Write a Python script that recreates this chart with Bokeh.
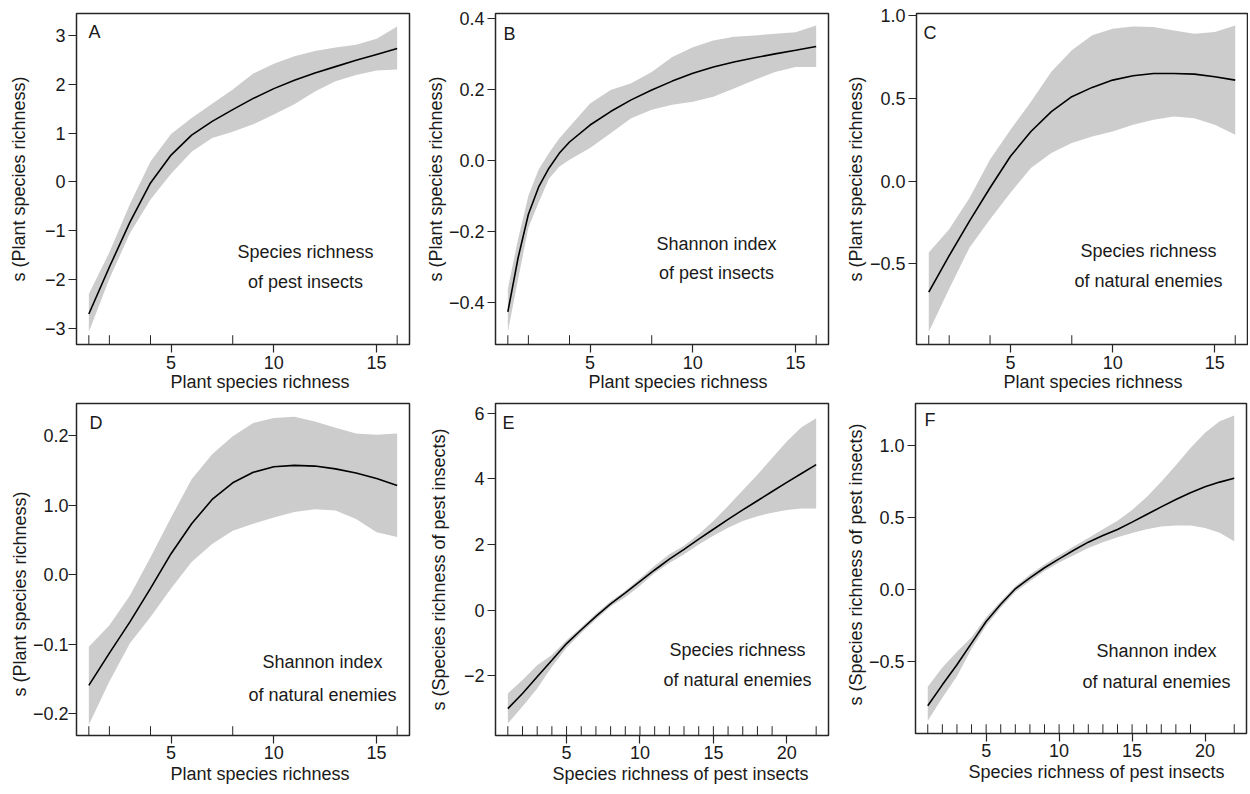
from bokeh.plotting import figure
from bokeh.layouts import row, column
from bokeh.models import Range1d, FixedTicker, Label, Title
from bokeh.embed import file_html
from bokeh.resources import INLINE

FONT = "Liberation Sans"

# ---------------- data ----------------
plant_x = [1, 2, 3, 4, 5, 6, 7, 8, 9, 10, 11, 12, 13, 14, 15, 16]
plant_rug = [1, 2, 4, 8, 16]
pest_x = list(range(1, 23))
pest_rug = list(range(1, 20)) + [22]

# A: species richness of pest insects
a_fit = [-2.70, -1.74, -0.82, -0.02, 0.55, 0.96, 1.24, 1.48, 1.71, 1.91, 2.08, 2.23, 2.36, 2.49, 2.61, 2.73]
a_hi = [-2.29, -1.44, -0.45, 0.42, 0.98, 1.31, 1.60, 1.89, 2.22, 2.42, 2.57, 2.68, 2.75, 2.81, 2.93, 3.18]
a_lo = [-3.07, -1.98, -1.05, -0.36, 0.17, 0.62, 0.90, 1.03, 1.18, 1.38, 1.59, 1.85, 2.06, 2.19, 2.28, 2.30]

# B: Shannon index of pest insects
b_x = [1, 1.5, 2, 2.5, 3, 3.5, 4, 5, 6, 7, 8, 9, 10, 11, 12, 13, 14, 15, 16]
b_fit = [-0.428, -0.275, -0.152, -0.075, -0.022, 0.020, 0.052, 0.100, 0.138, 0.171, 0.199, 0.224, 0.246, 0.264, 0.278, 0.290, 0.301, 0.311, 0.322]
b_hi = [-0.363, -0.222, -0.100, -0.026, 0.021, 0.062, 0.095, 0.161, 0.199, 0.218, 0.250, 0.292, 0.320, 0.339, 0.349, 0.353, 0.358, 0.362, 0.381]
b_lo = [-0.484, -0.335, -0.190, -0.119, -0.052, -0.018, 0.002, 0.035, 0.077, 0.119, 0.143, 0.157, 0.166, 0.180, 0.203, 0.227, 0.250, 0.264, 0.264]

# C: species richness of natural enemies
c_fit = [-0.67, -0.45, -0.24, -0.04, 0.15, 0.30, 0.42, 0.51, 0.566, 0.61, 0.636, 0.65, 0.65, 0.646, 0.63, 0.61]
c_hi = [-0.43, -0.29, -0.10, 0.13, 0.31, 0.48, 0.66, 0.79, 0.88, 0.92, 0.934, 0.93, 0.91, 0.89, 0.90, 0.94]
c_lo = [-0.91, -0.65, -0.40, -0.23, -0.07, 0.08, 0.17, 0.23, 0.27, 0.30, 0.34, 0.37, 0.39, 0.38, 0.34, 0.28]

# D: Shannon index of natural enemies
d_fit = [-0.1595, -0.113, -0.068, -0.020, 0.030, 0.073, 0.108, 0.132, 0.147, 0.155, 0.157, 0.156, 0.152, 0.146, 0.138, 0.128]
d_hi = [-0.104, -0.073, -0.030, 0.025, 0.082, 0.137, 0.173, 0.199, 0.218, 0.225, 0.227, 0.220, 0.211, 0.203, 0.201, 0.203]
d_lo = [-0.216, -0.154, -0.099, -0.061, -0.020, 0.018, 0.044, 0.063, 0.073, 0.082, 0.090, 0.094, 0.092, 0.080, 0.061, 0.054]

# E: species richness of natural enemies vs pest richness
e_fit = [-3.00, -2.54, -2.03, -1.53, -1.02, -0.60, -0.19, 0.19, 0.52, 0.87, 1.22, 1.55, 1.85, 2.16, 2.46, 2.76, 3.05, 3.33, 3.61, 3.89, 4.16, 4.43]
e_hi = [-2.54, -2.13, -1.68, -1.37, -0.92, -0.52, -0.11, 0.27, 0.59, 0.96, 1.35, 1.70, 1.96, 2.31, 2.71, 3.17, 3.65, 4.12, 4.63, 5.13, 5.57, 5.84]
e_lo = [-3.45, -2.94, -2.39, -1.73, -1.15, -0.70, -0.29, 0.11, 0.39, 0.74, 1.13, 1.43, 1.70, 2.00, 2.26, 2.51, 2.71, 2.86, 2.96, 3.05, 3.09, 3.09]

# F: Shannon index of natural enemies vs pest richness
f_fit = [-0.805, -0.66, -0.52, -0.37, -0.22, -0.10, 0.007, 0.083, 0.153, 0.215, 0.275, 0.331, 0.377, 0.419, 0.470, 0.523, 0.576, 0.627, 0.674, 0.715, 0.748, 0.775]
f_hi = [-0.674, -0.54, -0.43, -0.33, -0.19, -0.08, 0.025, 0.106, 0.176, 0.24, 0.30, 0.36, 0.42, 0.48, 0.555, 0.645, 0.75, 0.865, 0.985, 1.09, 1.17, 1.21]
f_lo = [-0.91, -0.75, -0.60, -0.41, -0.25, -0.125, -0.016, 0.06, 0.13, 0.19, 0.24, 0.29, 0.33, 0.365, 0.395, 0.42, 0.44, 0.447, 0.447, 0.43, 0.396, 0.338]

# ticks and labels
plant_xticks = [5, 10, 15]
pest_xticks = [5, 10, 15, 20]
a_yticks = [-3, -2, -1, 0, 1, 2, 3]
a_ylabels = ["\u22123", "\u22122", "\u22121", "0", "1", "2", "3"]
b_yticks = [-0.4, -0.2, 0.0, 0.2, 0.4]
b_ylabels = ["\u22120.4", "\u22120.2", "0.0", "0.2", "0.4"]
c_yticks = [-0.5, 0.0, 0.5, 1.0]
c_ylabels = ["\u22120.5", "0.0", "0.5", "1.0"]
d_yticks = [-0.2, -0.1, 0.0, 0.1, 0.2]
d_ylabels = ["\u22120.2", "\u22120.1", "0.0", "1.0", "0.2"]
e_yticks = [-2, 0, 2, 4, 6]
e_ylabels = ["\u22122", "0", "2", "4", "6"]
f_yticks = [-0.5, 0.0, 0.5, 1.0]
f_ylabels = ["\u22120.5", "0.0", "0.5", "1.0"]

plant_lab = "Plant species richness"
pest_lab = "Species richness of pest insects"
s_plant = "s (Plant species richness)"
s_pest = "s (Species richness of pest insects)"

BAND = "#cccccc"
INK = "#262626"
TXT = "#1a1a1a"


def lab(p, text, x, y, align="center", baseline="alphabetic"):
    p.add_layout(Label(x=x, y=y, x_units="screen", y_units="screen", text=text,
                       text_font=FONT, text_font_size="18px", text_color=TXT,
                       text_align=align, text_baseline=baseline))


def title(text, offset, standoff):
    return Title(text=text, align="left", offset=offset, standoff=standoff,
                 text_font=FONT, text_font_size="18px", text_font_style="normal",
                 text_color=TXT)


def panel(x, fit, lo, hi, rug, xr, yr, xt, yt, ylabs, letter, letter_off,
          texts, text_off, xlab, xlab_left, xlab_gap, xtick_gap, ylab, ymode, yparam, ytick_gap,
          fw, fh, bl, br, bt, bb):
    p = figure(frame_width=fw, frame_height=fh,
               x_range=Range1d(*xr), y_range=Range1d(*yr),
               output_backend="svg", toolbar_location=None, tools="",
               min_border_left=bl, min_border_right=br,
               min_border_top=bt, min_border_bottom=bb,
               background_fill_color="white", border_fill_color="white")
    p.grid.visible = False
    p.outline_line_color = INK
    p.outline_line_width = 1.5
    p.outline_line_alpha = 1.0

    p.varea(x=x, y1=lo, y2=hi, fill_color=BAND, fill_alpha=1.0)
    p.line(x=x, y=fit, line_color="black", line_width=1.6)

    # rug of observed x values along the bottom edge
    y0 = yr[0]
    y1 = yr[0] + 0.028 * (yr[1] - yr[0])
    p.segment(x0=rug, y0=[y0] * len(rug), x1=rug, y1=[y1] * len(rug),
              line_color=INK, line_width=1.0)

    for ax in (p.xaxis[0], p.yaxis[0]):
        ax.axis_line_color = None
        ax.major_tick_line_color = INK
        ax.major_tick_line_width = 1.2
        ax.major_tick_in = 0
        ax.major_tick_out = 8
        ax.minor_tick_line_color = None
        ax.major_label_text_font = FONT
        ax.major_label_text_font_size = "18px"
        ax.major_label_text_color = TXT
        ax.axis_label_text_font = FONT
        ax.axis_label_text_font_size = "18px"
        ax.axis_label_text_font_style = "normal"
        ax.axis_label_text_color = TXT

    p.xaxis.ticker = FixedTicker(ticks=xt)
    p.xaxis.major_label_standoff = xtick_gap
    p.yaxis.ticker = FixedTicker(ticks=yt)
    p.yaxis.major_label_overrides = {t: l for t, l in zip(yt, ylabs)}
    p.yaxis.major_label_standoff = ytick_gap

    if ymode == "axis":
        p.yaxis.axis_label = ylab
        p.yaxis.axis_label_standoff = yparam
    else:
        # y title placed lower than centre, as in the original
        p.add_layout(title(ylab, yparam, 0), "left")

    # x axis title (sits right of centre, as in the original)
    t = title(xlab, xlab_left, xlab_gap)
    t.vertical_align = "top"
    p.add_layout(t, "below")

    # panel letter
    lab(p, letter, letter_off[0], fh - letter_off[1], align="left", baseline="top")
    # annotation
    cx, b1, b2 = text_off
    lab(p, texts[0], cx, fh - b1)
    lab(p, texts[1], cx, fh - b2)
    return p


PX = (0.4, 16.6)
QX = (0.16, 22.84)

pa = panel(plant_x, a_fit, a_lo, a_hi, plant_rug, PX, (-3.325, 3.447), plant_xticks, a_yticks, a_ylabels,
           "A", (12, 8.6), ("Species richness", "of pest insects"), (229, 238, 268),
           plant_lab, 94, 0, 3, s_plant, "axis", 13, 3,
           333, 331, 76, 8, 13, 56)
pb = panel(b_x, b_fit, b_lo, b_hi, plant_rug, PX, (-0.52, 0.415), plant_xticks, b_yticks, b_ylabels,
           "B", (8, 10.3), ("Shannon index", "of pest insects"), (221, 230, 259),
           plant_lab, 93, 0, 3, s_plant, "axis", 0, 3,
           333, 331, 78, 10, 13, 56)
pc = panel(plant_x, c_fit, c_lo, c_hi, plant_rug, PX, (-0.986, 1.012), plant_xticks, c_yticks, c_ylabels,
           "C", (7, 9.6), ("Species richness", "of natural enemies"), (232, 237, 267),
           plant_lab, 87, 0, 3, s_plant, "axis", 1, 3,
           331, 331, 78, 1, 13, 56)

pd_ = panel(plant_x, d_fit, d_lo, d_hi, plant_rug, PX, (-0.2315, 0.246), plant_xticks, d_yticks, d_ylabels,
            "D", (13, 9.3), ("Shannon index", "of natural enemies"), (246, 258, 291),
            plant_lab, 94, 4, 2, s_plant, "title", 39, 0,
            333, 332, 76, 8, 1, 58)
pe = panel(pest_x, e_fit, e_lo, e_hi, pest_rug, QX, (-3.82, 6.29), pest_xticks, e_yticks, e_ylabels,
           "E", (7, 9.6), ("Species richness", "of natural enemies"), (242, 246, 276),
           pest_lab, 57, 4, 2, s_pest, "axis", 12, 3,
           333, 332, 78, 10, 1, 58)
pf = panel(pest_x, f_fit, f_lo, f_hi, pest_rug, QX, (-0.998, 1.294), pest_xticks, f_yticks, f_ylabels,
           "F", (9, 6.6), ("Shannon index", "of natural enemies"), (241, 247, 278),
           pest_lab, 53, 4, 2, s_pest, "title", 28, 3,
           331, 330, 77, 2, 3, 58)

layout = column(row(pa, pb, pc), row(pd_, pe, pf))

open("out.html", "w").write(file_html(layout, INLINE))
